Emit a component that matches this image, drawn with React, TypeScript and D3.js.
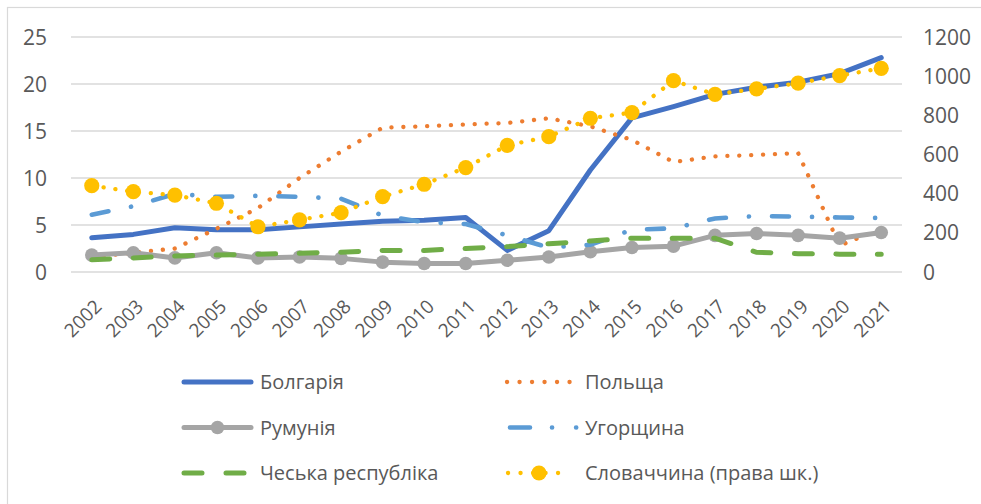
import React, { useEffect, useRef } from 'react';
import * as d3 from 'd3';

const years = ['2002', '2003', '2004', '2005', '2006', '2007', '2008', '2009', '2010', '2011',
  '2012', '2013', '2014', '2015', '2016', '2017', '2018', '2019', '2020', '2021'];

// left axis series
const bulgaria = [3.65, 4.0, 4.7, 4.5, 4.5, 4.8, 5.1, 5.4, 5.5, 5.8, 2.3, 4.4, 10.85, 16.4, 17.6, 18.9, 19.65, 20.2, 21.1, 22.8];
const poland = [1.6, 2.05, 2.5, 4.6, 6.8, 10.0, 12.8, 15.35, 15.5, 15.7, 15.85, 16.35, 15.5, 14.05, 11.7, 12.3, 12.45, 12.65, 2.8, 4.6];
const romania = [1.8, 2.05, 1.5, 2.05, 1.5, 1.6, 1.45, 1.05, 0.9, 0.9, 1.25, 1.6, 2.15, 2.6, 2.75, 3.9, 4.1, 3.9, 3.6, 4.2];
const hungary = [6.1, 7.0, 8.3, 8.0, 8.1, 8.0, 7.8, 6.0, 5.3, 5.1, 3.9, 2.6, 2.9, 4.5, 4.65, 5.7, 5.95, 5.9, 5.8, 5.75];
const czech = [1.3, 1.5, 1.7, 1.8, 1.9, 2.0, 2.1, 2.3, 2.3, 2.5, 2.7, 3.0, 3.3, 3.6, 3.6, 3.6, 2.1, 1.95, 1.9, 1.9];
// right axis series
const slovakia = [441, 410, 393, 351, 231, 266, 303, 385, 448, 533, 647, 691, 785, 814, 977, 907, 935, 964, 1003, 1040];

const leftTicks = [0, 5, 10, 15, 20, 25];
const rightTicks = [0, 200, 400, 600, 800, 1000, 1200];

const App: React.FC = () => {
  const ref = useRef<SVGSVGElement>(null);

  useEffect(() => {
    if (!ref.current) return;
    const width = 981;
    const height = 504;
    const svg = d3.select(ref.current);
    svg.selectAll('*').remove();

    const font = '"Open Sans", "Noto Sans", sans-serif';
    const textColor = '#595959';

    // chart frame
    svg.append('rect')
      .attr('x', 7.5).attr('y', 7.5)
      .attr('width', width + 10).attr('height', height + 10)
      .attr('fill', '#fff').attr('stroke', '#d9d9d9').attr('stroke-width', 1.2);

    const x = d3.scaleBand<string>().domain(years).range([71, 902]).padding(0);
    const cx = (y: string) => (x(y) ?? 0) + x.bandwidth() / 2;
    const yL = d3.scaleLinear().domain([0, 25]).range([272, 37]);
    const yR = d3.scaleLinear().domain([0, 1200]).range([272, 37]);

    // gridlines
    svg.append('g').selectAll('line')
      .data(leftTicks)
      .enter().append('line')
      .attr('x1', 71).attr('x2', 902)
      .attr('y1', d => yL(d)).attr('y2', d => yL(d))
      .attr('stroke', '#d9d9d9').attr('stroke-width', 1.3);

    // left axis labels
    svg.append('g').selectAll('text')
      .data(leftTicks)
      .enter().append('text')
      .attr('x', 47).attr('y', d => yL(d))
      .attr('dy', '0.36em')
      .attr('text-anchor', 'end')
      .attr('fill', textColor)
      .style('font-family', font).style('font-size', '21px')
      .text(d => d);

    // right axis labels
    svg.append('g').selectAll('text')
      .data(rightTicks)
      .enter().append('text')
      .attr('x', 923).attr('y', d => yR(d))
      .attr('dy', '0.36em')
      .attr('text-anchor', 'start')
      .attr('fill', textColor)
      .style('font-family', font).style('font-size', '21px')
      .text(d => d);

    // x axis labels, rotated
    svg.append('g').selectAll('text')
      .data(years)
      .enter().append('text')
      .attr('transform', d => `translate(${cx(d) + 6.5},303) rotate(-45)`)
      .attr('dy', '0.35em')
      .attr('text-anchor', 'end')
      .attr('fill', textColor)
      .style('font-family', font).style('font-size', '19px')
      .text(d => d);

    const lineL = d3.line<number>().x((_, i) => cx(years[i])).y(d => yL(d));
    const lineR = d3.line<number>().x((_, i) => cx(years[i])).y(d => yR(d));

    const plot = svg.append('g');

    // Болгарія
    plot.append('path').attr('d', lineL(bulgaria))
      .attr('fill', 'none').attr('stroke', '#4472c4').attr('stroke-width', 5)
      .attr('stroke-linejoin', 'round').attr('stroke-linecap', 'round');

    // Польща
    plot.append('path').attr('d', lineL(poland))
      .attr('fill', 'none').attr('stroke', '#ed7d31').attr('stroke-width', 4.3)
      .attr('stroke-dasharray', '0.1 11.8').attr('stroke-linecap', 'round');

    // Румунія
    plot.append('path').attr('d', lineL(romania))
      .attr('fill', 'none').attr('stroke', '#a5a5a5').attr('stroke-width', 5)
      .attr('stroke-linejoin', 'round');
    plot.append('g').selectAll('circle')
      .data(romania)
      .enter().append('circle')
      .attr('cx', (_, i) => cx(years[i])).attr('cy', d => yL(d))
      .attr('r', 6.8).attr('fill', '#a5a5a5');

    // Угорщина
    plot.append('path').attr('d', lineL(hungary))
      .attr('fill', 'none').attr('stroke', '#5b9bd5').attr('stroke-width', 4.6)
      .attr('stroke-dasharray', '17 23 0.1 23').attr('stroke-linecap', 'round');

    // Чеська республіка
    plot.append('path').attr('d', lineL(czech))
      .attr('fill', 'none').attr('stroke', '#70ad47').attr('stroke-width', 5)
      .attr('stroke-dasharray', '18 23.5').attr('stroke-linecap', 'round');

    // Словаччина (права шк.)
    plot.append('path').attr('d', lineR(slovakia))
      .attr('fill', 'none').attr('stroke', '#ffc000').attr('stroke-width', 4.3)
      .attr('stroke-dasharray', '0.1 11.8').attr('stroke-linecap', 'round');
    plot.append('g').selectAll('circle')
      .data(slovakia)
      .enter().append('circle')
      .attr('cx', (_, i) => cx(years[i])).attr('cy', d => yR(d))
      .attr('r', 7.6).attr('fill', '#ffc000');

    // legend
    const legend = svg.append('g');
    const rows = [382, 427.5, 473];
    const addText = (tx: number, ty: number, label: string) => {
      legend.append('text')
        .attr('x', tx).attr('y', ty).attr('dy', '0.36em')
        .attr('fill', textColor)
        .style('font-family', font).style('font-size', '20px')
        .text(label);
    };
    const addLine = (x1: number, x2: number, ty: number, color: string, w: number, dash?: string) => {
      const l = legend.append('line')
        .attr('x1', x1).attr('x2', x2).attr('y1', ty).attr('y2', ty)
        .attr('stroke', color).attr('stroke-width', w).attr('stroke-linecap', 'round');
      if (dash) l.attr('stroke-dasharray', dash);
    };

    addLine(184, 251, rows[0], '#4472c4', 5);
    addText(260, rows[0], 'Болгарія');

    addLine(507, 570, rows[0], '#ed7d31', 4.3, '0.1 12.4');
    addText(585, rows[0], 'Польща');

    addLine(184, 251, rows[1], '#a5a5a5', 5);
    legend.append('circle').attr('cx', 217.5).attr('cy', rows[1]).attr('r', 6.8).attr('fill', '#a5a5a5');
    addText(260, rows[1], 'Румунія');

    addLine(510, 578, rows[1], '#5b9bd5', 4.6, '20 22 0.1 24 0.1 40');
    addText(585, rows[1], 'Угорщина');

    addLine(184, 250, rows[2], '#70ad47', 5, '18 24');
    addText(260, rows[2], 'Чеська республіка');

    addLine(508, 570, rows[2], '#ffc000', 4.3, '0.1 12.4');
    legend.append('circle').attr('cx', 539).attr('cy', rows[2]).attr('r', 7.6).attr('fill', '#ffc000');
    addText(585, rows[2], 'Словаччина (права шк.)');
  }, []);

  return (
    <svg ref={ref} width={981} height={504}
      style={{ position: 'absolute', left: 0, top: 0, background: '#fff' }}></svg>
  );
};

export default App;
